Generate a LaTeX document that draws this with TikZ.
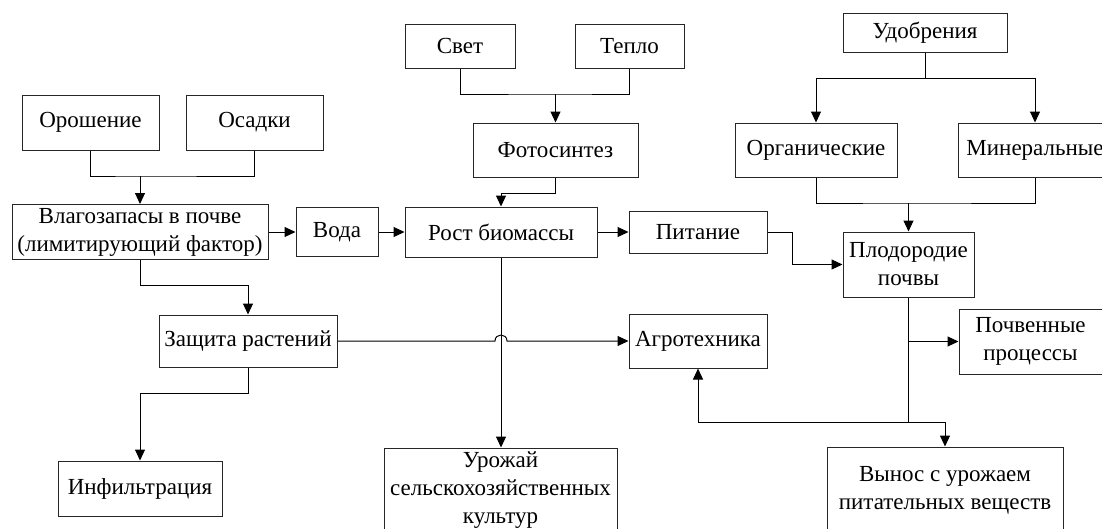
\documentclass[tikz,border=0pt]{standalone}
\usepackage{fontspec}
\setmainfont{Liberation Serif}
\usetikzlibrary{arrows.meta}
\begin{document}
\begin{tikzpicture}[
  x=1pt, y=-1pt,
  font=\fontsize{23}{28}\selectfont,
  line width=1pt,
  >={Triangle[length=11pt,width=10pt]},
  box/.style={draw, black!85, text=black, align=center, inner sep=0pt},
  link/.style={draw, black}
]
\useasboundingbox (0,0) rectangle (1102,528);

% Вода
\node[box, minimum width=137pt, minimum height=55pt] (oroshenie) at (90.5,122.5) {Орошение};
\node[box, minimum width=137pt, minimum height=55pt] (osadki) at (254.5,122.5) {Осадки};
\node[box, minimum width=256pt, minimum height=55pt] (vlaga) at (140,232) {Влагозапасы в почве\\(лимитирующий фактор)};
\node[box, minimum width=82pt, minimum height=49pt] (voda) at (337,232) {Вода};
% Биомасса
\node[box, minimum width=110pt, minimum height=44pt] (svet) at (460,46) {Свет};
\node[box, minimum width=109pt, minimum height=44pt] (teplo) at (629.5,46) {Тепло};
\node[box, minimum width=165pt, minimum height=54pt] (foto) at (555.5,150) {Фотосинтез};
\node[box, minimum width=192pt, minimum height=50pt] (rost) at (501,232) {Рост биомассы};
\node[box, minimum width=138pt, minimum height=42pt] (pitanie) at (698,232) {Питание};
% Удобрения
\node[box, minimum width=164pt, minimum height=39pt] (udobr) at (925,32.5) {Удобрения};
\node[box, minimum width=162pt, minimum height=54pt] (organ) at (816,150) {Органические};
\node[box, minimum width=154pt, minimum height=54pt] (miner) at (1035,150) {Минеральные};
\node[box, minimum width=131pt, minimum height=65pt] (plodor) at (908.5,264.5) {Плодородие\\почвы};
% Нижний ряд
\node[box, minimum width=178pt, minimum height=52pt] (zashita) at (248,341) {Защита растений};
\node[box, minimum width=164pt, minimum height=55pt] (infil) at (140,488.5) {Инфильтрация};
\node[box, minimum width=138pt, minimum height=54pt] (agro) at (698,341) {Агротехника};
\node[box, minimum width=143pt, minimum height=65pt] (pochv) at (1030.5,341.5) {Почвенные\\процессы};
\node[box, minimum width=233pt, minimum height=84pt] (urozhai) at (500.5,490) {Урожай\\сельскохозяйственных\\культур};
\node[box, minimum width=236pt, minimum height=86pt] (vynos) at (945,490) {Вынос с урожаем\\питательных веществ};

% Связи
\draw[link] (oroshenie.south) |- (vlaga.north |- 0,176) coordinate (j1) -| (osadki.south);
\draw[link, ->] (j1) -- (vlaga.north);
\draw[link, ->] (vlaga) -- (voda);
\draw[link, ->] (voda) -- (rost);
\draw[link] (svet.south) |- (foto.north |- 0,94) coordinate (j2) -| (teplo.south);
\draw[link, ->] (j2) -- (foto.north);
\draw[link, ->] (foto.south) -- ++(0,16) -| (rost.north);
\draw[link, ->] (rost) -- (pitanie);
\draw[link] (udobr.south) -- ++(0,26) coordinate (j3);
\draw[link, ->] (j3) -| (organ.north);
\draw[link, ->] (j3) -| (miner.north);
\draw[link] (organ.south) |- (plodor.north |- 0,203) coordinate (j4) -| (miner.south);
\draw[link, ->] (j4) -- (plodor.north);
\draw[link, ->] (pitanie.east) -- ++(25,0) |- (plodor.west);
\draw[link, ->] (vlaga.south) -- ++(0,25) -| (zashita.north);
\draw[link, ->] (zashita.south) -- ++(0,26) -| (infil.north);
\coordinate (hop) at (rost.south |- zashita.east);
\draw[link, ->] (zashita.east) -- ([xshift=-6pt]hop)
  .. controls ([xshift=-6pt,yshift=8pt]hop) and ([xshift=6pt,yshift=8pt]hop) .. ([xshift=6pt]hop)
  -- (agro.west);
\draw[link, ->] (rost.south) -- (rost.south |- urozhai.north);
\draw[link] (plodor.south) -- (plodor.south |- 0,422) coordinate (j5);
\draw[link, ->] (j5) -| (agro.south);
\draw[link, ->] (j5) -| (vynos.north);
\draw[link, ->] (plodor.south |- pochv.west) -- (pochv.west);

\end{tikzpicture}
\end{document}
